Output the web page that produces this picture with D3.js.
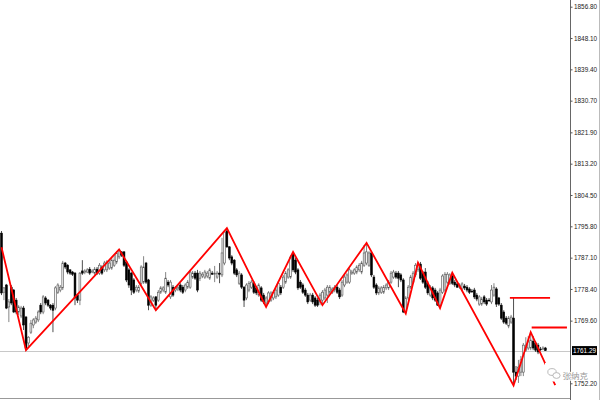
<!DOCTYPE html>
<html>
<head>
<meta charset="utf-8">
<script src="https://cdn.jsdelivr.net/npm/d3@7"></script>
<style>
  html, body { margin: 0; padding: 0; background: #fff; }
  svg { display: block; }
</style>
</head>
<body>
<svg id="chart" width="600" height="400"></svg>
<script>
// ---------- DATA ----------
const opens = [
 1793.9,1777.5,1779.5,1773.4,1778.9,1778.1,1775.3,1772.0,1770.9,1773.1,
 1770.6,1763.4,1766.4,1768.4,1769.2,1769.8,1773.9,1772.0,1775.9,1775.3,
 1773.9,1773.9,1773.1,1777.5,1778.1,1778.7,1785.6,1785.0,1783.7,1783.1,
 1782.8,1776.7,1775.3,1783.4,1783.1,1783.1,1783.9,1783.1,1782.8,1783.9,
 1782.8,1784.5,1783.7,1783.7,1784.2,1784.2,1785.0,1785.9,1787.3,1788.7,
 1788.7,1785.9,1783.7,1782.8,1780.9,1778.1,1777.8,1780.0,1780.3,1785.6,
 1780.9,1773.9,1775.3,1776.2,1775.3,1777.5,1778.1,1777.5,1780.3,1776.2,
 1778.9,1778.1,1778.4,1779.5,1778.9,1778.1,1778.9,1778.9,1781.7,1782.8,
 1782.8,1781.4,1782.0,1781.7,1782.0,1781.4,1782.8,1782.5,1781.7,1782.8,
 1782.3,1785.6,1794.5,1790.1,1787.3,1786.4,1783.7,1780.0,1782.3,1778.9,
 1775.9,1778.1,1778.9,1780.0,1778.7,1776.7,1778.7,1776.7,1774.5,1774.8,
 1775.3,1775.9,1776.2,1776.7,1778.9,1778.9,1780.3,1781.7,1781.7,1788.1,
 1786.4,1783.7,1780.3,1779.5,1778.1,1776.7,1775.3,1776.7,1775.9,1775.3,
 1774.8,1775.3,1775.9,1776.7,1777.5,1777.5,1778.1,1778.9,1778.1,1776.7,
 1779.5,1780.3,1780.3,1782.8,1782.8,1783.1,1783.7,1783.1,1785.0,1785.6,
 1785.0,1788.4,1781.7,1779.5,1777.3,1777.5,1777.5,1778.7,1778.7,1780.3,
 1781.7,1782.8,1782.8,1782.3,1780.9,1772.0,1775.9,1778.9,1780.3,1782.3,
 1783.7,1785.3,1782.8,1783.1,1780.0,1776.7,1778.7,1778.1,1777.3,1773.9,
 1777.5,1778.1,1780.3,1780.0,1782.0,1780.3,1779.8,1778.9,1778.4,1779.2,
 1778.9,1778.4,1777.8,1778.1,1776.7,1774.2,1774.2,1776.2,1775.3,1775.3,
 1774.8,1776.7,1778.4,1775.9,1773.9,1772.0,1770.3,1768.1,1769.2,1770.3,
 1755.3,1754.2,1755.3,1755.3,1761.4,1762.0,1762.0,1763.9,1763.4,1762.8,
 1761.7,1761.7,1762.0
];
const highs = [
 1794.5,1778.9,1779.8,1775.6,1779.5,1778.4,1775.9,1773.9,1773.7,1773.7,
 1770.9,1765.3,1769.8,1770.3,1770.9,1772.5,1774.5,1776.7,1776.4,1775.6,
 1774.2,1774.5,1779.2,1780.0,1779.5,1786.2,1785.9,1785.3,1783.9,1783.4,
 1783.1,1777.0,1783.1,1786.4,1783.9,1784.2,1784.5,1783.9,1784.5,1784.5,
 1785.6,1785.0,1786.2,1786.4,1786.2,1787.0,1787.8,1788.9,1789.5,1788.9,
 1788.9,1786.2,1784.2,1783.1,1781.4,1779.5,1779.5,1785.0,1787.5,1785.9,
 1781.2,1776.7,1776.4,1776.4,1778.1,1779.2,1779.2,1783.1,1780.9,1780.9,
 1779.5,1779.2,1779.5,1780.0,1779.5,1780.0,1780.9,1783.7,1783.4,1783.4,
 1783.7,1783.4,1783.1,1783.7,1783.4,1784.2,1783.4,1784.8,1783.4,1785.6,
 1792.6,1794.8,1795.3,1790.3,1787.8,1786.7,1784.2,1783.4,1782.8,1779.2,
 1780.0,1780.6,1780.9,1780.6,1779.2,1780.0,1779.2,1777.3,1776.4,1777.8,
 1777.8,1778.1,1778.7,1780.6,1779.5,1782.3,1783.4,1784.2,1787.8,1788.7,
 1787.0,1784.2,1780.9,1780.0,1778.7,1777.3,1777.3,1777.3,1776.4,1775.9,
 1777.3,1778.1,1778.7,1779.5,1779.5,1778.9,1779.5,1779.5,1778.7,1780.9,
 1782.3,1782.8,1784.2,1783.7,1784.2,1785.0,1785.6,1786.2,1790.6,1791.2,
 1788.9,1788.9,1782.3,1780.0,1779.2,1779.2,1779.5,1780.0,1780.9,1783.4,
 1783.7,1783.4,1783.4,1782.8,1781.4,1776.4,1779.5,1782.3,1783.4,1785.6,
 1785.9,1785.9,1783.4,1784.2,1780.6,1779.5,1779.2,1778.7,1777.8,1778.7,
 1782.5,1783.1,1783.1,1782.8,1783.1,1780.9,1780.3,1780.0,1780.3,1779.8,
 1779.5,1778.9,1778.4,1778.7,1777.3,1776.7,1776.2,1776.7,1775.9,1775.9,
 1779.5,1780.0,1778.9,1776.2,1774.5,1772.5,1770.9,1770.9,1771.2,1775.9,
 1757.0,1758.7,1759.8,1763.4,1765.0,1765.3,1766.4,1765.3,1763.9,1763.4,
 1762.3,1762.5,1762.3
];
const lows = [
 1776.7,1775.3,1772.8,1769.2,1773.9,1771.7,1771.4,1771.2,1770.3,1767.0,
 1761.4,1762.5,1765.9,1767.5,1768.7,1769.2,1771.4,1771.4,1773.9,1773.4,
 1772.5,1766.4,1772.5,1777.0,1777.5,1778.1,1783.9,1782.5,1782.3,1782.0,
 1773.9,1774.5,1773.9,1782.3,1782.5,1782.8,1782.3,1782.8,1782.3,1782.3,
 1782.3,1782.3,1783.1,1783.1,1783.7,1783.7,1784.5,1785.3,1786.7,1787.3,
 1784.5,1780.3,1778.7,1776.7,1777.0,1777.5,1777.3,1779.5,1779.8,1779.8,
 1772.5,1773.4,1774.8,1772.5,1774.8,1777.0,1777.5,1777.0,1778.9,1775.6,
 1776.2,1777.5,1777.8,1777.5,1777.0,1777.5,1778.4,1778.4,1781.2,1780.9,
 1777.5,1780.6,1781.4,1781.2,1781.4,1780.9,1782.3,1780.3,1781.2,1780.0,
 1781.7,1785.0,1789.8,1786.4,1785.0,1782.3,1781.7,1779.5,1778.4,1773.4,
 1775.3,1777.5,1778.4,1777.0,1776.7,1776.2,1774.8,1774.2,1773.4,1774.2,
 1774.8,1775.3,1775.6,1776.2,1776.7,1778.4,1779.8,1781.2,1781.2,1783.1,
 1782.5,1778.1,1778.4,1777.0,1776.2,1774.2,1774.8,1774.2,1773.4,1773.4,
 1773.9,1773.9,1775.3,1774.5,1777.0,1777.0,1777.5,1777.0,1775.6,1776.2,
 1778.9,1779.8,1779.8,1782.3,1782.3,1782.5,1783.1,1782.5,1784.5,1785.0,
 1784.5,1781.7,1778.4,1776.7,1776.7,1777.0,1777.0,1778.1,1778.1,1779.8,
 1781.2,1781.2,1778.9,1780.3,1771.7,1771.4,1775.3,1778.4,1779.8,1781.7,
 1783.1,1780.9,1779.8,1778.4,1776.7,1776.2,1775.3,1774.8,1773.7,1773.1,
 1777.0,1777.5,1779.8,1779.5,1779.5,1778.9,1778.7,1778.4,1777.8,1778.1,
 1777.5,1777.0,1777.3,1775.6,1775.0,1773.7,1773.7,1774.2,1773.7,1774.8,
 1774.2,1776.2,1773.4,1773.7,1769.8,1768.7,1768.4,1767.5,1768.7,1751.4,
 1753.1,1752.3,1754.2,1754.2,1760.9,1761.4,1761.4,1761.4,1760.9,1760.3,
 1761.2,1761.4,1761.2
];
const closes = [
 1777.3,1778.7,1773.1,1774.8,1774.5,1772.0,1772.0,1773.4,1773.1,1768.4,
 1762.0,1765.0,1768.9,1769.8,1770.3,1772.0,1772.0,1776.2,1774.5,1773.9,
 1773.1,1772.5,1778.7,1779.5,1778.9,1785.6,1784.5,1783.1,1782.8,1782.5,
 1775.9,1775.3,1782.8,1782.8,1783.4,1783.7,1782.8,1783.4,1783.9,1782.8,
 1785.0,1782.8,1785.6,1785.9,1785.6,1786.4,1786.4,1788.4,1789.2,1787.8,
 1785.0,1780.9,1779.5,1778.1,1777.5,1778.9,1778.9,1784.5,1784.5,1780.3,
 1773.9,1776.2,1775.9,1773.9,1777.5,1778.7,1778.7,1781.4,1779.5,1780.3,
 1776.7,1778.7,1778.9,1778.1,1777.5,1779.5,1780.3,1783.1,1782.8,1781.4,
 1778.1,1782.8,1782.5,1783.1,1782.8,1783.7,1782.5,1782.8,1782.8,1782.5,
 1788.4,1794.2,1790.1,1787.0,1785.6,1782.8,1782.3,1782.8,1778.9,1775.3,
 1779.5,1780.0,1780.3,1777.5,1777.3,1779.5,1775.3,1774.8,1775.9,1777.3,
 1777.3,1777.5,1778.1,1780.0,1777.3,1781.7,1782.8,1783.7,1787.3,1783.7,
 1783.1,1778.7,1778.9,1777.5,1776.7,1774.8,1776.7,1774.8,1773.9,1773.9,
 1776.7,1777.5,1778.1,1778.9,1778.9,1778.4,1778.9,1777.5,1776.2,1780.3,
 1781.7,1782.3,1783.7,1783.1,1783.7,1784.5,1785.0,1785.6,1788.4,1788.7,
 1788.4,1782.3,1778.9,1777.3,1778.7,1778.7,1778.9,1779.5,1780.3,1782.8,
 1783.1,1781.7,1781.4,1780.9,1772.0,1775.9,1778.9,1781.7,1782.8,1785.0,
 1785.3,1781.4,1780.3,1778.9,1777.3,1778.9,1775.9,1775.3,1773.9,1778.1,
 1782.0,1782.5,1782.5,1782.3,1780.0,1779.5,1778.9,1779.5,1779.8,1778.7,
 1778.1,1777.5,1777.7,1776.2,1775.6,1776.2,1775.6,1774.8,1774.2,1775.2,
 1778.1,1778.9,1774.2,1774.2,1770.3,1769.2,1768.9,1770.3,1770.6,1755.3,
 1754.2,1756.7,1758.7,1762.8,1762.8,1763.7,1764.2,1762.0,1761.4,1760.9,
 1761.6,1762.0,1761.29
];

// price axis tick labels
const priceTicks = [1856.80,1848.10,1839.40,1830.70,1821.90,1813.20,1804.50,1795.80,1787.10,1778.40,1769.60,1752.20];
const lastPrice = 1761.29;

// zigzag pivots (bar index, price)
const zigIdx   = [0,10,48,63,92,108,119,131,149,165,170,179,184,209,216,226];
const zigPrice = [1790.0,1761.4,1789.4,1772.5,1795.3,1773.4,1788.7,1773.9,1791.2,1771.6,1785.7,1773.1,1782.9,1751.6,1766.4,1751.7];

// horizontal level lines
const levelPrice = [1775.9, 1767.7];
const levelFrom  = [207.5, 216.4];
const levelTo    = [223.9, 230.8];

const watermarkText = "张纳克";

// ---------- DRAW ----------
const svg = d3.select("#chart");
const W = 600, H = 400, axisX = 570;
const labelFont = "'Liberation Sans', Arial, sans-serif";

const x = d3.scaleLinear().domain([0, opens.length - 1]).range([1.5, 545.4]);
const y = d3.scaleLinear().domain([1752.2, 1856.8]).range([383.3, 6.7]);

svg.append("rect").attr("width", W).attr("height", H).attr("fill", "#fff");

// current price line
svg.append("line")
  .attr("x1", 0).attr("x2", axisX)
  .attr("y1", Math.round(y(lastPrice)) + 0.5).attr("y2", Math.round(y(lastPrice)) + 0.5)
  .attr("stroke", "#c8c8c8").attr("stroke-width", 1);

// candles
const bars = d3.range(opens.length).map(i => ({i, o: opens[i], h: highs[i], l: lows[i], c: closes[i]}));
const g = svg.append("g");
g.selectAll("line.wick").data(bars).join("line")
  .attr("class", "wick")
  .attr("x1", d => x(d.i)).attr("x2", d => x(d.i))
  .attr("y1", d => y(d.h)).attr("y2", d => y(d.l))
  .attr("stroke", d => d.c >= d.o ? "#666" : "#222")
  .attr("stroke-width", 0.8);
g.selectAll("rect.body").data(bars).join("rect")
  .attr("class", "body")
  .attr("x", d => x(d.i) - 0.9)
  .attr("width", 1.8)
  .attr("y", d => y(Math.max(d.o, d.c)))
  .attr("height", d => Math.max(0.7, Math.abs(y(d.o) - y(d.c))))
  .attr("fill", d => d.c >= d.o ? "#f4f4f4" : "#000")
  .attr("stroke", d => d.c >= d.o ? "#555" : "#000")
  .attr("stroke-width", 0.6);

// zigzag
const zz = zigIdx.map((d, k) => [x(d), y(zigPrice[k])]);
svg.append("path")
  .attr("d", d3.line()(zz))
  .attr("fill", "none").attr("stroke", "#ff0000").attr("stroke-width", 1.8)
  .attr("stroke-linejoin", "miter");

// level lines
levelPrice.forEach((p, k) => {
  svg.append("line")
    .attr("x1", x(levelFrom[k])).attr("x2", x(levelTo[k]))
    .attr("y1", y(p)).attr("y2", y(p))
    .attr("stroke", "#ff0000").attr("stroke-width", 1.8);
});

// frame
svg.append("line").attr("x1", axisX + 0.5).attr("x2", axisX + 0.5).attr("y1", 0).attr("y2", H)
  .attr("stroke", "#666").attr("stroke-width", 1);
svg.append("line").attr("x1", 0).attr("x2", axisX).attr("y1", 398.5).attr("y2", 398.5)
  .attr("stroke", "#999").attr("stroke-width", 1);
svg.append("line").attr("x1", 599.5).attr("x2", 599.5).attr("y1", 0).attr("y2", H)
  .attr("stroke", "#bbb").attr("stroke-width", 1);

// price axis
const axis = d3.axisRight(y).tickValues(priceTicks).tickSize(2).tickSizeOuter(0).tickPadding(1.5)
  .tickFormat(d3.format(".2f"));
const ag = svg.append("g").attr("transform", `translate(${axisX + 0.5},0)`).call(axis);
ag.select(".domain").remove();
ag.selectAll(".tick line").attr("stroke", "#555");
ag.selectAll(".tick text")
  .attr("font-family", labelFont)
  .attr("font-size", 6.4).attr("fill", "#222");

// last price tag
const ly = y(lastPrice);
svg.append("rect").attr("x", 572).attr("y", ly - 4.5).attr("width", 25).attr("height", 9).attr("fill", "#000");
svg.append("text").attr("x", 584.5).attr("y", ly).attr("dy", "0.35em")
  .attr("text-anchor", "middle")
  .attr("font-family", labelFont)
  .attr("font-size", 6.4).attr("fill", "#fff")
  .text(d3.format(".2f")(lastPrice));

// watermark
const wm = svg.append("g");
wm.append("rect").attr("x", 545).attr("y", 363).attr("width", 24.5).attr("height", 18.5).attr("fill", "#fff");
wm.append("ellipse").attr("cx", 552).attr("cy", 372).attr("rx", 4.2).attr("ry", 3.4)
  .attr("fill", "#fff").attr("stroke", "#aaa").attr("stroke-width", 0.8);
wm.append("ellipse").attr("cx", 556.5).attr("cy", 375.5).attr("rx", 3.6).attr("ry", 2.9)
  .attr("fill", "#fff").attr("stroke", "#aaa").attr("stroke-width", 0.8);
wm.append("text").attr("x", 562.5).attr("y", 378.5)
  .attr("font-family", "'Noto Sans CJK SC', sans-serif").attr("font-size", 8.5)
  .attr("fill", "#9a9a9a").attr("stroke", "#fff").attr("stroke-width", 1.5)
  .attr("paint-order", "stroke")
  .text(watermarkText);
</script>
</body>
</html>
